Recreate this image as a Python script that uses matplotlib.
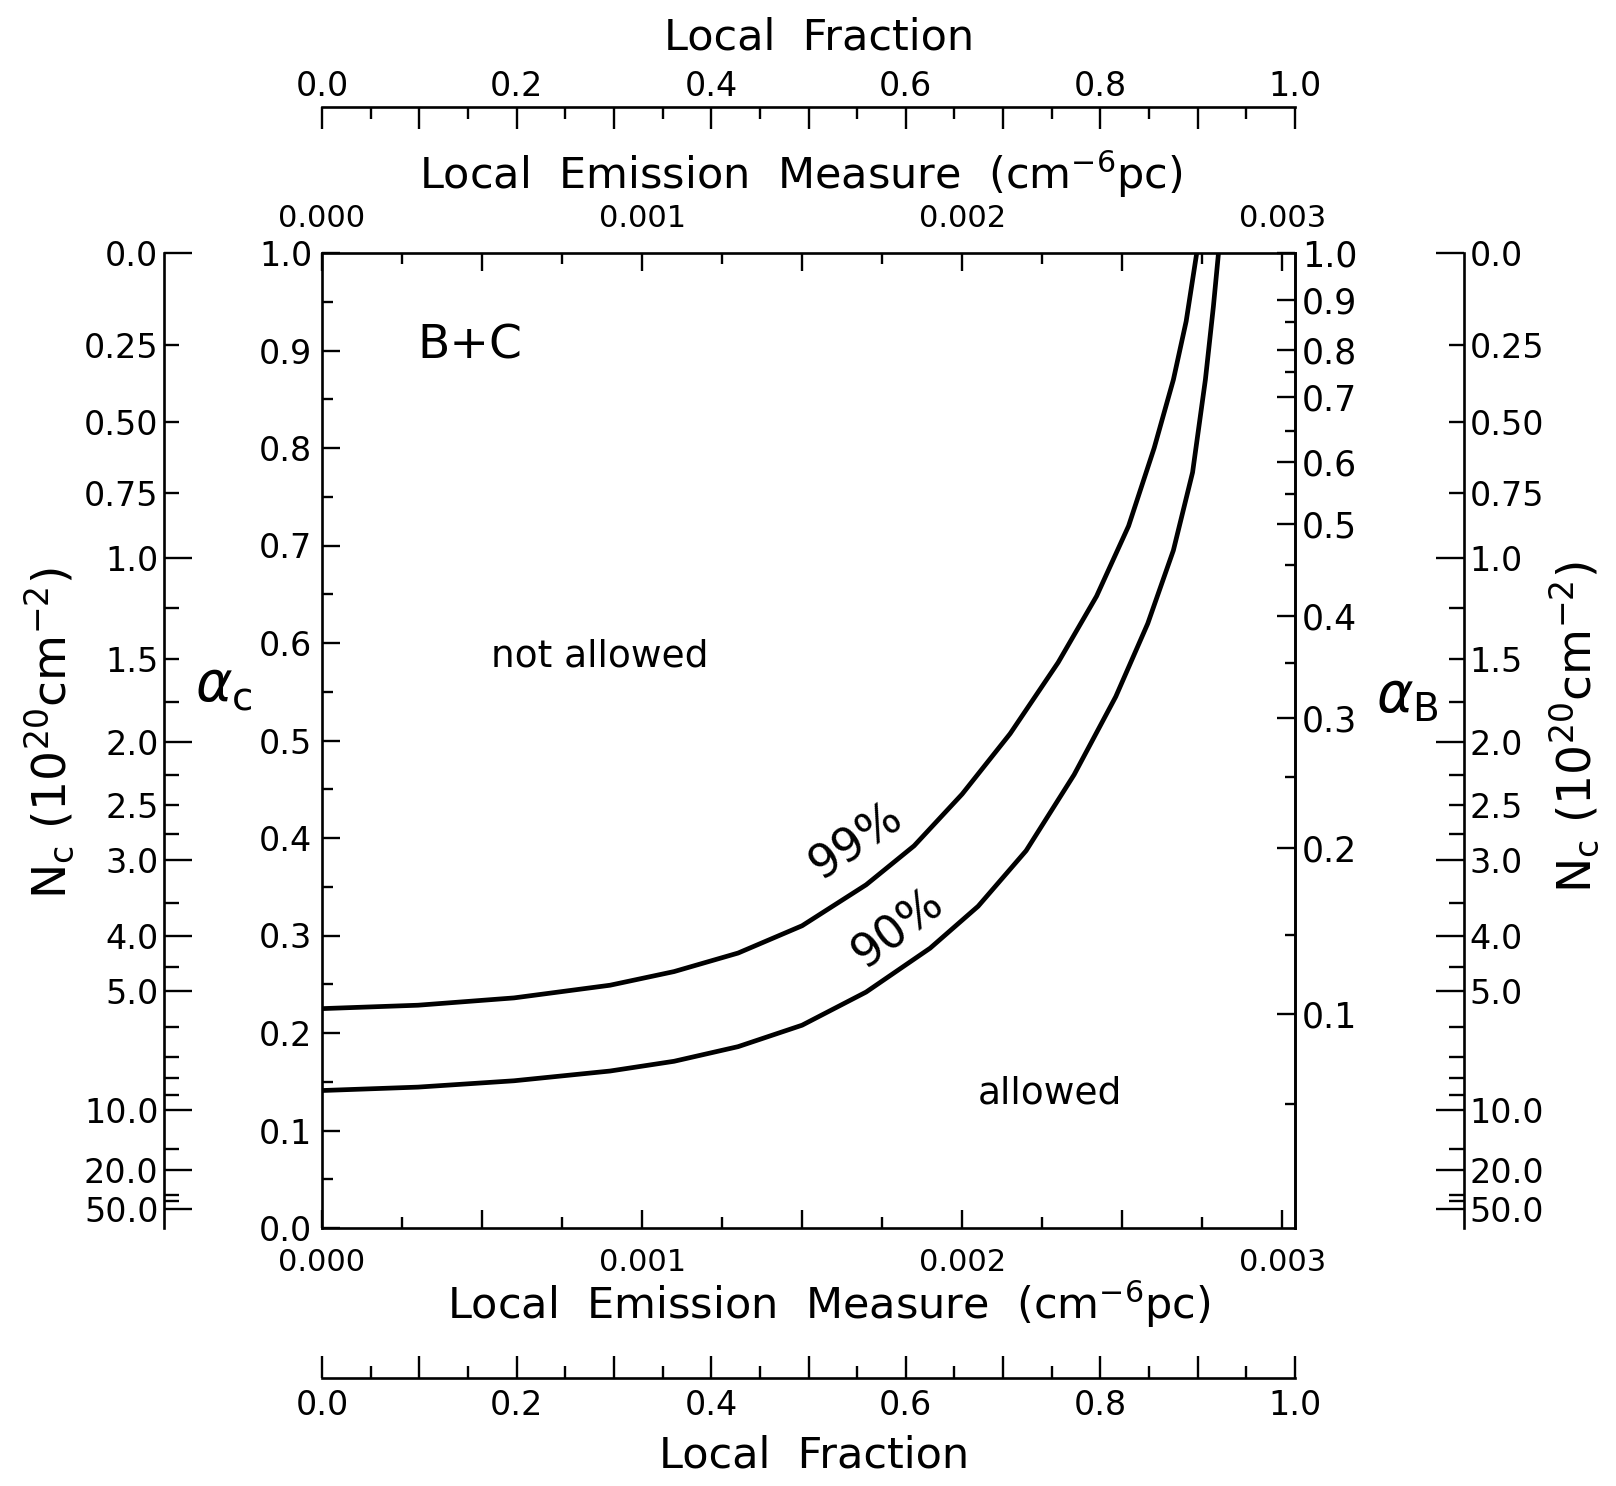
import numpy as np
import matplotlib
matplotlib.use("Agg")
import matplotlib.pyplot as plt

plt.rcParams.update({
    "font.family": "DejaVu Sans",
    "mathtext.fontset": "dejavusans",
    "axes.linewidth": 1.9,
    "axes.edgecolor": "black",
    "xtick.direction": "in",
    "ytick.direction": "in",
    "xtick.major.width": 1.7,
    "xtick.minor.width": 1.7,
    "ytick.major.width": 1.7,
    "ytick.minor.width": 1.7,
})

W, H = 1616, 1486   # output size in pixels (dpi 100)

# ---------------------------------------------------------------
# data
# ---------------------------------------------------------------
# 99% and 90% confidence contours: local emission measure vs alpha_C
em_99 = [0.0, 0.0003, 0.0006, 0.0009, 0.0011, 0.0013, 0.0015, 0.0017,
         0.00185, 0.0020, 0.00215, 0.0023, 0.00242, 0.00252, 0.0026,
         0.00266, 0.0027, 0.002733]
alpha_99 = [0.225, 0.2285, 0.236, 0.249, 0.263, 0.282, 0.310, 0.352,
            0.392, 0.445, 0.507, 0.580, 0.648, 0.720, 0.800,
            0.870, 0.930, 1.0]

em_90 = [0.0, 0.0003, 0.0006, 0.0009, 0.0011, 0.0013, 0.0015, 0.0017,
         0.0019, 0.00205, 0.0022, 0.00235, 0.00248, 0.00258, 0.00266,
         0.00272, 0.00276, 0.002785, 0.002801]
alpha_90 = [0.141, 0.1445, 0.151, 0.161, 0.171, 0.186, 0.208, 0.242,
            0.287, 0.330, 0.387, 0.465, 0.545, 0.620, 0.695,
            0.775, 0.870, 0.945, 1.0]

# main axes ticks
em_ticks = [0.0, 0.0005, 0.001, 0.0015, 0.002, 0.0025, 0.003]
em_labels = ["0.000", "", "0.001", "", "0.002", "", "0.003"]
em_minor = [0.00025, 0.00075, 0.00125, 0.00175, 0.00225, 0.00275]
alpha_c_ticks = [0.0, 0.1, 0.2, 0.3, 0.4, 0.5, 0.6, 0.7, 0.8, 0.9, 1.0]
alpha_c_minor = [0.05, 0.15, 0.25, 0.35, 0.45, 0.55, 0.65, 0.75, 0.85, 0.95]

# alpha_B scale: value and its position on the alpha_C scale
alpha_b_vals = [1.0, 0.9, 0.8, 0.7, 0.6, 0.5, 0.4, 0.3, 0.2, 0.1]
alpha_b_pos = [1.0, 0.952, 0.901, 0.852, 0.786, 0.722, 0.628, 0.523, 0.390, 0.219]
alpha_b_minor_pos = [0.929, 0.878, 0.817, 0.753, 0.680, 0.580, 0.463, 0.301, 0.127]

# N_c scale (10^20 cm^-2): value and its position on the alpha_C scale
nc_major = [0.0, 1.0, 2.0, 3.0, 4.0, 5.0, 10.0, 20.0, 50.0]
nc_major_pos = [1.0, 0.687, 0.498, 0.377, 0.299, 0.243, 0.121, 0.059, 0.020]
nc_mid = [0.25, 0.50, 0.75, 1.5, 2.5]
nc_mid_pos = [0.906, 0.827, 0.754, 0.584, 0.434]
nc_minor_pos = [0.636, 0.540, 0.465, 0.404, 0.333, 0.268, 0.206, 0.175,
                0.154, 0.136, 0.081, 0.034, 0.028]

# local fraction scale
frac_ticks = [0.0, 0.1, 0.2, 0.3, 0.4, 0.5, 0.6, 0.7, 0.8, 0.9, 1.0]
frac_labels = ["0.0", "", "0.2", "", "0.4", "", "0.6", "", "0.8", "", "1.0"]
frac_minor = [0.05, 0.15, 0.25, 0.35, 0.45, 0.55, 0.65, 0.75, 0.85, 0.95]

EM_MAX = 0.00304
PT = 72 / 100  # pt per pixel


def nc_fmt(v):
    return f"{v:.2f}" if 0 < v < 1 else f"{v:.1f}"


def fx(px):
    return px / W


def fy(py):
    return 1 - py / H


AX_L, AX_R, AX_T, AX_B = 322, 1295, 253, 1228

fig = plt.figure(figsize=(W / 100, H / 100), dpi=100)
fig.patch.set_facecolor("white")

# ---------------------------------------------------------------
# main panel
# ---------------------------------------------------------------
ax = fig.add_axes([fx(AX_L), fy(AX_B), (AX_R - AX_L) / W, (AX_B - AX_T) / H])
ax.plot(em_99, alpha_99, color="black", lw=3.4, solid_joinstyle="round")
ax.plot(em_90, alpha_90, color="black", lw=3.4, solid_joinstyle="round")
ax.set_xlim(0, EM_MAX)
ax.set_ylim(0, 1)

ax.set_xticks(em_ticks, em_labels)
ax.set_xticks(em_minor, minor=True)
ax.tick_params(axis="x", which="both", top=True, bottom=True,
               labeltop=True, labelbottom=True, labelsize=22)
ax.tick_params(axis="x", which="major", length=18 * PT, pad=14.5)
ax.tick_params(axis="x", which="minor", length=11 * PT)

ax.set_yticks(alpha_c_ticks, [f"{v:.1f}" for v in alpha_c_ticks])
ax.set_yticks(alpha_c_minor, minor=True)
ax.tick_params(axis="y", which="both", left=True, right=False, labelsize=24)
ax.tick_params(axis="y", which="major", length=18 * PT, pad=7)
ax.tick_params(axis="y", which="minor", length=11 * PT)

# alpha_B scale on the right spine
axb = ax.twinx()
axb.set_ylim(0, 1)
for s in ["left", "top", "bottom"]:
    axb.spines[s].set_visible(False)
axb.set_yticks(alpha_b_pos, [f"{v:.1f}" for v in alpha_b_vals])
axb.set_yticks(alpha_b_minor_pos, minor=True)
axb.tick_params(axis="y", which="both", labelsize=25)
axb.tick_params(axis="y", which="major", length=18 * PT, pad=5)
axb.tick_params(axis="y", which="minor", length=10 * PT)


# ---------------------------------------------------------------
# outer N_c scales
# ---------------------------------------------------------------
def nc_axis(x_px, side):
    a = fig.add_axes([fx(x_px), fy(AX_B), 1e-4, (AX_B - AX_T) / H])
    a.set_ylim(0, 1)
    a.patch.set_visible(False)
    a.xaxis.set_visible(False)
    for s in a.spines:
        a.spines[s].set_visible(s == side)
    if side == "right":
        a.yaxis.tick_right()
    else:
        a.yaxis.tick_left()
    a.set_yticks(nc_major_pos, [nc_fmt(v) for v in nc_major])
    a.set_yticks(nc_mid_pos + nc_minor_pos,
                 [nc_fmt(v) for v in nc_mid] + [""] * len(nc_minor_pos), minor=True)
    a.tick_params(axis="y", which="both", labelsize=24)
    a.tick_params(axis="y", which="major", length=28 * PT, pad=4)
    a.tick_params(axis="y", which="minor", length=15 * PT, pad=4)
    return a


nc_axis(164, "left")
nc_axis(1464, "right")


# ---------------------------------------------------------------
# local fraction scales (top and bottom)
# ---------------------------------------------------------------
def frac_axis(y_px, side):
    a = fig.add_axes([fx(AX_L), fy(y_px), (AX_R - AX_L) / W, 1e-4])
    a.set_xlim(0, 1)
    a.patch.set_visible(False)
    a.yaxis.set_visible(False)
    for s in a.spines:
        a.spines[s].set_visible(s == side)
    if side == "top":
        a.xaxis.tick_top()
    else:
        a.xaxis.tick_bottom()
    a.set_xticks(frac_ticks, frac_labels)
    a.set_xticks(frac_minor, minor=True)
    a.tick_params(axis="x", which="both", labelsize=24)
    a.tick_params(axis="x", which="major", length=22 * PT,
                  pad=3 if side == "top" else 8)
    a.tick_params(axis="x", which="minor", length=12 * PT)
    return a


frac_axis(107, "top")
frac_axis(1378, "bottom")

# ---------------------------------------------------------------
# titles and labels
# ---------------------------------------------------------------
TITLE_FS = 31
fig.text(fx(819), fy(37), "Local  Fraction", fontsize=TITLE_FS,
         ha="center", va="center")
fig.text(fx(801), fy(174), r"Local  Emission  Measure  (cm$^{-6}$pc)",
         fontsize=TITLE_FS, ha="center", va="center")
fig.text(fx(829), fy(1304), r"Local  Emission  Measure  (cm$^{-6}$pc)",
         fontsize=TITLE_FS, ha="center", va="center")
fig.text(fx(814), fy(1456), "Local  Fraction", fontsize=TITLE_FS,
         ha="center", va="center")

nc_label = r"N$_\mathrm{c}$ (10$^{20}$cm$^{-2}$)"
fig.text(fx(49), fy(733), nc_label, fontsize=34, rotation=90,
         ha="center", va="center")
fig.text(fx(1574), fy(727), nc_label, fontsize=34, rotation=90,
         ha="center", va="center")

fig.text(fx(224), fy(685), r"$\alpha_\mathrm{c}$", fontsize=40,
         ha="center", va="center")
fig.text(fx(1407), fy(697), r"$\alpha_\mathrm{B}$", fontsize=40,
         ha="center", va="center")

# annotations inside the panel
fig.text(fx(470), fy(346), "B+C", fontsize=34, ha="center", va="center")
fig.text(fx(600), fy(656), "not allowed", fontsize=27, ha="center", va="center")
fig.text(fx(1050), fy(1093), "allowed", fontsize=27, ha="center", va="center")
fig.text(fx(856), fy(842), "99%", fontsize=33, rotation=34,
         ha="center", va="center", rotation_mode="anchor")
fig.text(fx(898), fy(929), "90%", fontsize=33, rotation=37,
         ha="center", va="center", rotation_mode="anchor")

fig.savefig("out.png", dpi=100, facecolor="white")
